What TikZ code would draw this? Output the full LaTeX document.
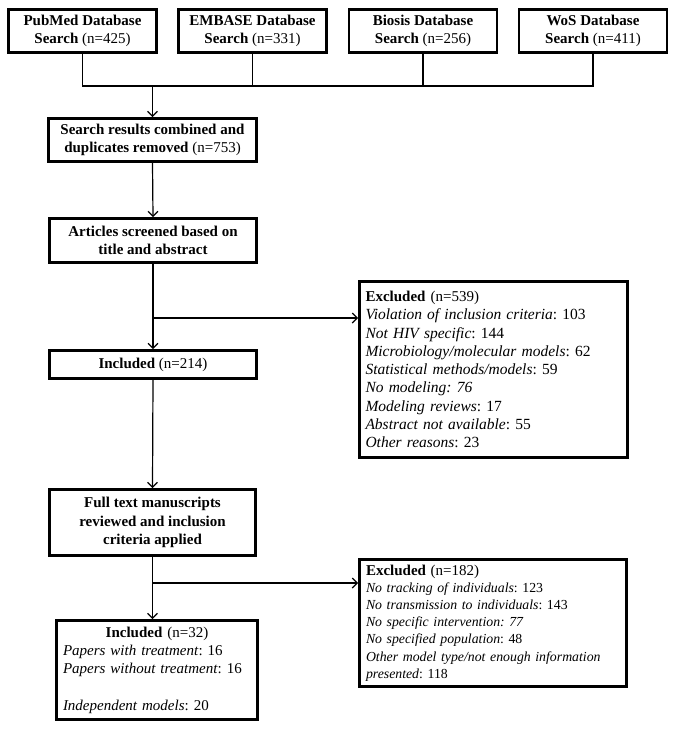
\documentclass[tikz,border=0pt]{standalone}
\usepackage{fontspec}
\setmainfont{Liberation Serif}
\usetikzlibrary{arrows.meta}
\begin{document}
\frenchspacing
\begin{tikzpicture}[x=1pt,y=-1pt,
  box/.style={draw, line width=2.8pt, inner sep=0pt, font=\fontsize{15}{18.3}\selectfont\frenchspacing},
  conn/.style={line width=1.2pt},
  arr/.style={conn, -{Straight Barb[length=5pt,width=10pt]}}]
\useasboundingbox (0,0) rectangle (675,729);
% top boxes
\node[box, minimum width=148, minimum height=43, align=center] (pub) at (82.5,31) {\textbf{PubMed Database}\\\textbf{Search} (n=425)};
\node[box, minimum width=148, minimum height=43, align=center] (emb) at (252.5,31) {\textbf{EMBASE Database}\\\textbf{Search} (n=331)};
\node[box, minimum width=148, minimum height=43, align=center] (bio) at (423,31) {\textbf{Biosis Database}\\\textbf{Search} (n=256)};
\node[box, minimum width=148, minimum height=43, align=center] (wos) at (593,31) {\textbf{WoS Database}\\\textbf{Search} (n=411)};
% main column
\node[box, minimum width=208, minimum height=43, align=center] (search) at (152.5,140) {\textbf{Search results combined and}\\\textbf{duplicates removed} (n=753)};
\node[box, minimum width=207, minimum height=44, align=center] (articles) at (153,240.5) {\textbf{Articles screened based on}\\\textbf{title and abstract}};
\node[box, minimum width=207, minimum height=28, align=center] (inc214) at (153,364.5) {\textbf{Included} (n=214)};
\node[box, minimum width=206, minimum height=66, align=center] (fulltext) at (152.5,522.5) {\textbf{Full text manuscripts}\\\textbf{reviewed and inclusion}\\\textbf{criteria applied}};
\node[box, minimum width=201, minimum height=99, text width=188pt, align=left] (inc32) at (157,670) {\makebox[\linewidth][c]{\textbf{Included} (n=32)}\\\textit{Papers with treatment}: 16\\\textit{Papers without treatment}: 16\\[18.3pt]\textit{Independent models}: 20};
% excluded boxes
\node[box, minimum width=268, minimum height=176, text width=256pt, align=left, font=\fontsize{15.5}{18.3}\selectfont\frenchspacing] (ex1) at (493.5,369.5) {{\fontsize{15}{18.3}\selectfont\textbf{Excluded} (n=539)}\\\textit{Violation of inclusion criteria}: 103\\\textit{Not HIV specific}: 144\\\textit{Microbiology/molecular models}: 62\\\textit{Statistical methods/models}: 59\\\textit{No modeling: 76}\\\textit{Modeling reviews}: 17\\\textit{Abstract not available}: 55\\\textit{Other reasons}: 23};
\node[box, minimum width=267, minimum height=127, text width=254pt, align=left, font=\fontsize{13.8}{17.2}\selectfont\frenchspacing] (ex2) at (493,623) {{\fontsize{15}{17.2}\selectfont\textbf{Excluded} (n=182)}\\\textit{No tracking of individuals}: 123\\\textit{No transmission to individuals}: 143\\\textit{No specific intervention: 77}\\\textit{No specified population}: 48\\\textit{Other model type/not enough information}\\\textit{presented}: 118};
% connectors
\coordinate (jt) at (153,86);
\draw[conn] (pub.south) -- (pub.south |- jt) -- (wos.south |- jt) -- (wos.south);
\draw[conn] (emb.south) -- (emb.south |- jt);
\draw[conn] (bio.south) -- (bio.south |- jt);
\draw[arr] (search.north |- jt) -- (search.north);
\draw[arr] (search.south) -- (articles.north);
\draw[arr] (articles.south) -- (inc214.north);
\coordinate (b1) at (153,318);
\draw[arr] (b1) -- (b1 -| ex1.west);
\draw[arr] (inc214.south) -- (fulltext.north);
\draw[arr] (fulltext.south) -- (fulltext.south |- inc32.north);
\coordinate (b2) at (152.5,583);
\draw[arr] (b2) -- (b2 -| ex2.west);
\end{tikzpicture}
\end{document}
